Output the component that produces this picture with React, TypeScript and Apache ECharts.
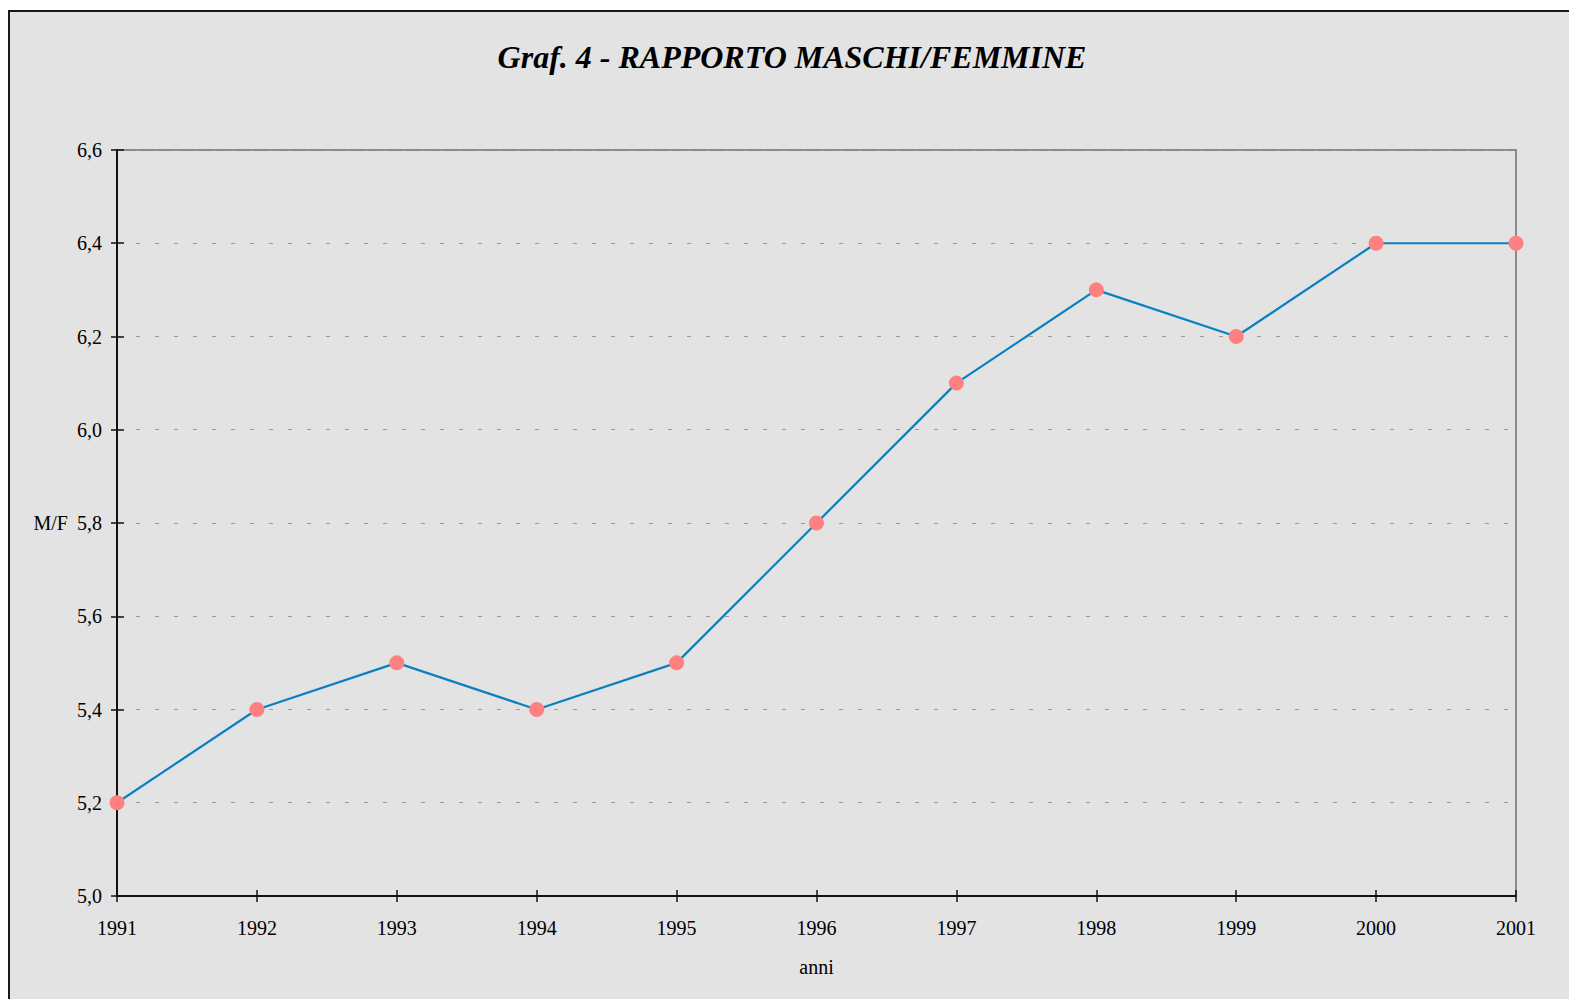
import React, { useEffect, useRef } from "react";
import * as echarts from "echarts";

const years = ["1991", "1992", "1993", "1994", "1995", "1996", "1997", "1998", "1999", "2000", "2001"];
const ratio = [5.2, 5.4, 5.5, 5.4, 5.5, 5.8, 6.1, 6.3, 6.2, 6.4, 6.4];
const titleText = "Graf. 4 - RAPPORTO MASCHI/FEMMINE";
const yName = "M/F";
const xName = "anni";

const FONT = "'Liberation Serif', 'Times New Roman', serif";

export default function App() {
  const ref = useRef<HTMLDivElement>(null);
  useEffect(() => {
    if (!ref.current) return;
    const chart = echarts.init(ref.current, null, { renderer: "svg" });
    const fmt = (v: number) => v.toFixed(1).replace(".", ",");
    chart.setOption({
      animation: false,
      backgroundColor: "#e3e3e3",
      textStyle: { fontFamily: FONT },
      title: {
        text: titleText,
        left: 777,
        top: 24,
        textAlign: "center",
        textStyle: { fontFamily: FONT, fontSize: 32, fontWeight: "bold", fontStyle: "italic", color: "#000" },
      },
      grid: {
        left: 107,
        top: 138,
        right: 54,
        bottom: 103,
        show: true,
        borderColor: "#8a8a8a",
        borderWidth: 2,
        backgroundColor: "transparent",
      },
      xAxis: [
        {
          type: "category",
          data: years,
          boundaryGap: false,
          name: xName,
          nameLocation: "middle",
          nameGap: 61,
          nameTextStyle: { fontFamily: FONT, fontSize: 20, color: "#000" },
          axisLine: { show: true, lineStyle: { color: "#111", width: 2 } },
          axisTick: { show: true, length: 6, alignWithLabel: true, lineStyle: { color: "#111", width: 1.5 } },
          axisLabel: { fontFamily: FONT, fontSize: 20, color: "#000", margin: 22 },
          splitLine: { show: false },
        },
        {
          type: "category",
          data: years,
          boundaryGap: false,
          position: "bottom",
          axisLine: { show: false },
          axisTick: { show: true, inside: true, length: 6, lineStyle: { color: "#111", width: 1.5 } },
          axisLabel: { show: false },
          splitLine: { show: false },
        },
      ],
      yAxis: [
        {
          type: "value",
          min: 5,
          max: 6.6,
          interval: 0.2,
          name: yName,
          nameLocation: "middle",
          nameRotate: 0,
          nameGap: 49,
          nameTextStyle: { fontFamily: FONT, fontSize: 20, color: "#000", align: "right" },
          axisLine: { show: true, lineStyle: { color: "#111", width: 2 } },
          axisTick: { show: true, length: 6, lineStyle: { color: "#111", width: 1.5 } },
          axisLabel: { fontFamily: FONT, fontSize: 20, color: "#000", margin: 15, formatter: fmt },
          splitLine: { show: true, lineStyle: { color: "#9a9a9a", width: 1, type: [4, 15] } },
        },
        {
          type: "value",
          min: 5,
          max: 6.6,
          interval: 0.2,
          position: "left",
          axisLine: { show: false },
          axisTick: { show: true, inside: true, length: 7, lineStyle: { color: "#111", width: 1.5 } },
          axisLabel: { show: false },
          splitLine: { show: false },
        },
      ],
      series: [
        {
          type: "line",
          data: ratio,
          xAxisIndex: 0,
          yAxisIndex: 0,
          symbol: "circle",
          symbolSize: 15,
          itemStyle: { color: "#ff8080", borderWidth: 0 },
          lineStyle: { color: "#0a80c0", width: 2.2 },
          z: 5,
        },
      ],
    });
    return () => chart.dispose();
  }, []);

  return (
    <div
      style={{
        position: "fixed",
        left: 8,
        top: 10,
        width: 1580,
        height: 1000,
        borderLeft: "2px solid #1a1a1a",
        borderTop: "2px solid #1a1a1a",
        background: "#e3e3e3",
      }}
    >
      <div ref={ref} style={{ width: 1560, height: 987 }} />
    </div>
  );
}
